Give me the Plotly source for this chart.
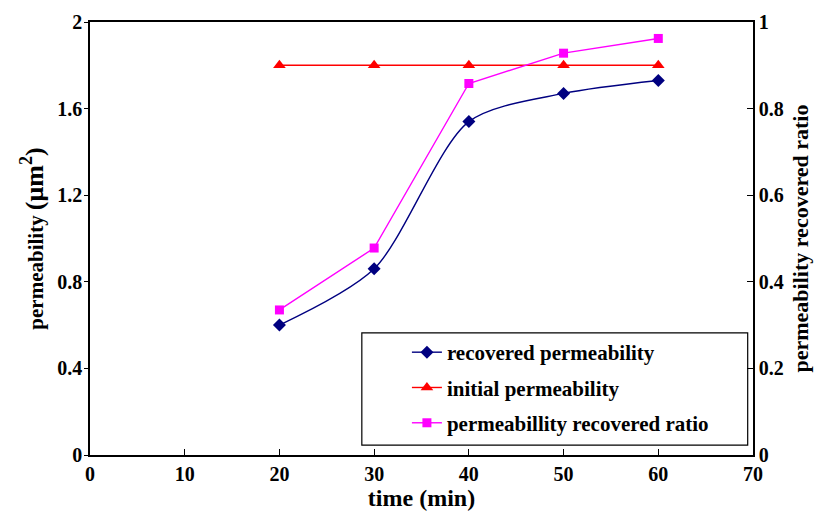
import plotly.graph_objects as go

time_min = [20, 30, 40, 50, 60]
recovered_perm = [0.60, 0.86, 1.54, 1.67, 1.73]
initial_perm = [1.80, 1.80, 1.80, 1.80, 1.80]
recovered_ratio = [0.335, 0.478, 0.858, 0.928, 0.962]

x_ticks = [0, 10, 20, 30, 40, 50, 60, 70]
y_ticks = [0, 0.4, 0.8, 1.2, 1.6, 2]
y2_ticks = [0, 0.2, 0.4, 0.6, 0.8, 1]

FONT = "Liberation Serif, Times New Roman, serif"

fig = go.Figure()
fig.add_trace(go.Scatter(
    x=time_min, y=recovered_perm, name="<b>recovered permeability</b>", legendgroup="a",
    mode="lines+markers", line=dict(color="#000080", width=1.4, shape="spline", smoothing=0.8),
    marker=dict(symbol="diamond", size=10, color="#000080"),
))
fig.add_trace(go.Scatter(
    x=time_min, y=initial_perm, name="<b>initial permeability</b>", legendgroup="b",
    mode="lines+markers", line=dict(color="#FF0000", width=1.4),
    marker=dict(symbol="triangle-up", size=11, color="#FF0000"),
))
fig.add_trace(go.Scatter(
    x=time_min, y=recovered_ratio, name="<b>permeabillity recovered ratio</b>", legendgroup="c",
    mode="lines+markers", line=dict(color="#FF00FF", width=1.4),
    marker=dict(symbol="square", size=9, color="#FF00FF"),
    yaxis="y2",
))

tickfont = dict(family=FONT, size=20, color="black", weight="bold")
titlefont = dict(family=FONT, size=22, color="black", weight="bold")

fig.update_layout(
    width=829, height=515,
    margin=dict(l=82, r=84, t=14, b=68),
    paper_bgcolor="white", plot_bgcolor="white",
    showlegend=True,
    legend=dict(
        x=0.478, y=0.284, xanchor="left", yanchor="top",
        borderwidth=0, bgcolor="rgba(0,0,0,0)",
        font=dict(family=FONT, size=21, color="black", weight="bold"),
        tracegroupgap=5,
    ),
    shapes=[dict(type="rect", xref="paper", yref="paper",
                 x0=0.410, x1=0.992, y0=0.023, y1=0.282,
                 line=dict(color="black", width=1.2), fillcolor="white", layer="below")],
    xaxis=dict(
        range=[0, 70], tickvals=x_ticks, ticktext=["<b>%d</b>" % v for v in x_ticks],
        ticks="inside", ticklen=6, tickcolor="black",
        showline=True, linecolor="black", linewidth=1.5, mirror=True,
        showgrid=False, zeroline=False, tickfont=tickfont, automargin=False,
        title=dict(text="<b>time (min)</b>", font=dict(family=FONT, size=24, color="black"), standoff=4),
    ),
    yaxis=dict(
        range=[0, 2], tickvals=y_ticks, ticktext=["<b>0</b>", "<b>0.4</b>", "<b>0.8</b>", "<b>1.2</b>", "<b>1.6</b>", "<b>2</b>"],
        ticks="outside", ticklen=4, tickcolor="black",
        showline=True, linecolor="black", linewidth=1.5,
        showgrid=False, zeroline=False, tickfont=tickfont, automargin=False,
        ticklabelstandoff=-2,
        title=dict(text="<b>permeability <span style='font-size:26px'>(μm<sup>2</sup>)</span></b>",
                   font=dict(family=FONT, size=21, color="black"), standoff=8),
    ),
    yaxis2=dict(
        range=[0, 1], tickvals=y2_ticks, ticktext=["<b>0</b>", "<b>0.2</b>", "<b>0.4</b>", "<b>0.6</b>", "<b>0.8</b>", "<b>1</b>"],
        overlaying="y", side="right",
        ticks="inside", ticklen=6, tickcolor="black",
        showline=True, linecolor="black", linewidth=1.5,
        showgrid=False, zeroline=False, tickfont=tickfont, automargin=False,
        title=dict(text="<b>permeability recovered ratio</b>", font=titlefont, standoff=10),
    ),
)

fig.write_html("out.html")
